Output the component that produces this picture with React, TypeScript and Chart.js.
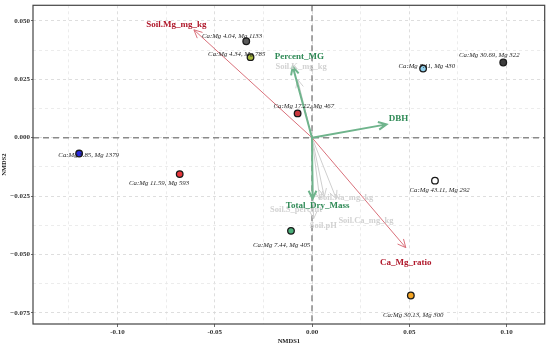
import React, { useEffect, useRef } from "react";
import { Chart, registerables } from "chart.js";

Chart.register(...registerables);

// Sample scores (NMDS1, NMDS2)
const siteLabels = [
  "Ca:Mg 4.04, Mg 1133",
  "Ca:Mg 4.34, Mg 785",
  "Ca:Mg 17.22, Mg 467",
  "Ca:Mg 7.11, Mg 430",
  "Ca:Mg 30.69, Mg 322",
  "Ca:Mg 3.85, Mg 1379",
  "Ca:Mg 11.59, Mg 593",
  "Ca:Mg 43.11, Mg 292",
  "Ca:Mg 7.44, Mg 405",
  "Ca:Mg 30.13, Mg 300",
];
const siteX = [-0.0338, -0.0316, -0.0074, 0.0571, 0.0983, -0.1197, -0.068, 0.0632, -0.0108, 0.0508];
const siteY = [0.0413, 0.0345, 0.0104, 0.0296, 0.0322, -0.0068, -0.0156, -0.0184, -0.0399, -0.0676];
const siteLabelX = [-0.0411, -0.0387, -0.0042, 0.059, 0.0911, -0.1148, -0.0786, 0.0656, -0.0156, 0.052];
const siteLabelY = [0.0434, 0.0358, 0.0135, 0.0304, 0.0355, -0.0077, -0.0193, -0.0223, -0.046, -0.0761];
const siteColors = ["#5b5b5b", "#a9ba3c", "#c9383e", "#8fd0ee", "#3d3d3d", "#2a2ae0", "#e8363b", "#ffffff", "#4caf7a", "#f5a524"];

// Environmental vectors
const envNames = ["Soil.K_mg_kg", "Soil.Na_mg_kg", "Soil.Ca_mg_kg", "Soil.S_percent", "Soil.pH", "Soil.Mg_mg_kg", "Ca_Mg_ratio", "Percent_MG", "DBH", "Total_Dry_Mass"];
const envGroup = ["grey", "grey", "grey", "grey", "grey", "red", "red", "green", "green", "green"];
const envX = [-0.0074, 0.0063, 0.0125, 0.004, 0.0008, -0.0607, 0.0482, -0.0099, 0.0383, 0.0003];
const envY = [0.0249, -0.0253, -0.0262, -0.0265, -0.0348, 0.0462, -0.0471, 0.0305, 0.0057, -0.0262];
const envLabelX = [-0.0056, 0.0174, 0.0277, -0.0082, 0.0058, -0.0697, 0.0482, -0.0065, 0.0444, 0.0029];
const envLabelY = [0.0305, -0.0256, -0.0355, -0.0309, -0.0376, 0.0483, -0.0535, 0.0348, 0.0083, -0.0291];

const xMin = -0.1434, xMax = 0.1196, yMin = -0.0798, yMax = 0.0567;

const groupStyle: Record<string, { line: string; text: string; width: number; font: string }> = {
  grey: { line: "#cfcfcf", text: "#d2d2d2", width: 1, font: "bold 8.5px 'Liberation Serif'" },
  red: { line: "#d9707a", text: "#b0182b", width: 1, font: "bold 9px 'Liberation Serif'" },
  green: { line: "#6fb48c", text: "#2f8a56", width: 2, font: "bold 9px 'Liberation Serif'" },
};

const near = (v: number, step: number) => Math.abs(v / step - Math.round(v / step)) < 1e-6;

const ordPlugin = {
  id: "ord",
  beforeDatasetsDraw(chart: any) {
    const { ctx, chartArea: a, scales } = chart;
    const xs = scales.x, ys = scales.y;
    ctx.save();
    ctx.beginPath();
    ctx.rect(a.left, a.top, a.right - a.left, a.bottom - a.top);
    ctx.clip();
    // zero lines
    ctx.strokeStyle = "#8a8a8a";
    ctx.lineWidth = 1.5;
    ctx.setLineDash([6, 4]);
    const x0 = xs.getPixelForValue(0), y0 = ys.getPixelForValue(0);
    ctx.beginPath();
    ctx.moveTo(x0, a.top); ctx.lineTo(x0, a.bottom);
    ctx.moveTo(a.left, y0); ctx.lineTo(a.right, y0);
    ctx.stroke();
    ctx.setLineDash([]);
    // arrows: grey first, then red, then green
    const order = ["grey", "red", "green"];
    order.forEach((g) => {
      envNames.forEach((_, i) => {
        if (envGroup[i] !== g) return;
        const st = groupStyle[g];
        const tx = xs.getPixelForValue(envX[i]), ty = ys.getPixelForValue(envY[i]);
        ctx.strokeStyle = st.line;
        ctx.lineWidth = st.width;
        ctx.beginPath();
        ctx.moveTo(x0, y0); ctx.lineTo(tx, ty);
        const ang = Math.atan2(ty - y0, tx - x0);
        const L = 9, w = Math.PI / 7;
        ctx.moveTo(tx - L * Math.cos(ang - w), ty - L * Math.sin(ang - w));
        ctx.lineTo(tx, ty);
        ctx.lineTo(tx - L * Math.cos(ang + w), ty - L * Math.sin(ang + w));
        ctx.stroke();
      });
    });
    ctx.restore();
  },
  afterDatasetsDraw(chart: any) {
    const { ctx, chartArea: a, scales } = chart;
    const xs = scales.x, ys = scales.y;
    ctx.save();
    ctx.textAlign = "center";
    ctx.textBaseline = "middle";
    // site labels
    ctx.font = "italic 6.8px 'Liberation Serif'";
    ctx.fillStyle = "#1e1e1e";
    siteLabels.forEach((t, i) => {
      ctx.fillText(t, xs.getPixelForValue(siteLabelX[i]), ys.getPixelForValue(siteLabelY[i]));
    });
    // env labels
    ["grey", "red", "green"].forEach((g) => {
      envNames.forEach((t, i) => {
        if (envGroup[i] !== g) return;
        const st = groupStyle[g];
        ctx.font = st.font;
        ctx.fillStyle = st.text;
        ctx.fillText(t, xs.getPixelForValue(envLabelX[i]), ys.getPixelForValue(envLabelY[i]));
      });
    });
    // frame
    ctx.strokeStyle = "#444";
    ctx.lineWidth = 1.2;
    ctx.strokeRect(a.left, a.top, a.right - a.left, a.bottom - a.top);
    ctx.restore();
  },
};

export default function App() {
  const ref = useRef<HTMLCanvasElement>(null);
  useEffect(() => {
    document.body.style.margin = "0";
    const chart = new Chart(ref.current!, {
      type: "scatter",
      data: {
        datasets: [
          {
            data: siteX.map((x, i) => ({ x, y: siteY[i] })),
            backgroundColor: siteColors,
            borderColor: "#1a1a1a",
            borderWidth: 1.3,
            pointRadius: 3.3,
          },
        ],
      },
      options: {
        responsive: false,
        animation: false,
        layout: { padding: { top: 3, right: 4, left: 0, bottom: 0 } },
        plugins: { legend: { display: false }, tooltip: { enabled: false } },
        scales: {
          x: {
            type: "linear",
            min: xMin,
            max: xMax,
            afterBuildTicks: (s: any) => {
              const t = [];
              for (let v = -0.125; v <= 0.1001; v += 0.025) t.push({ value: Math.round(v * 1000) / 1000 });
              s.ticks = t;
            },
            afterFit: (s: any) => { s.height = 21; },
            grid: {
              color: (c: any) => (near(c.tick.value, 0.05) ? "#d6d6d6" : "#e8e8e8"),
              tickColor: (c: any) => (near(c.tick.value, 0.05) ? "#444" : "rgba(0,0,0,0)"),
              tickLength: 3,
              lineWidth: 0.8,
            },
            border: { display: false, dash: [3, 3] },
            ticks: {
              autoSkip: false,
              maxRotation: 0,
              padding: 1,
              color: "#333",
              font: { family: "'Liberation Serif'", size: 7, weight: "bold" },
              callback: (v: any) => (near(v, 0.05) ? (Math.abs(v) < 1e-9 ? "0.00" : Number(v).toFixed(2)) : ""),
            },
            title: {
              display: true,
              text: "NMDS1",
              color: "#222",
              padding: { top: 0, bottom: 0 },
              font: { family: "'Liberation Serif'", size: 6.5, weight: "bold" },
            },
          },
          y: {
            type: "linear",
            min: yMin,
            max: yMax,
            afterBuildTicks: (s: any) => {
              const t = [];
              for (let k = -6; k <= 4; k++) t.push({ value: Math.round(k * 125) / 10000 });
              s.ticks = t;
            },
            afterFit: (s: any) => { s.width = 33; },
            grid: {
              color: (c: any) => (near(c.tick.value, 0.025) ? "#d6d6d6" : "#e8e8e8"),
              tickColor: (c: any) => (near(c.tick.value, 0.025) ? "#444" : "rgba(0,0,0,0)"),
              tickLength: 2,
              lineWidth: 0.8,
            },
            border: { display: false, dash: [3, 3] },
            ticks: {
              autoSkip: false,
              padding: 1,
              color: "#333",
              font: { family: "'Liberation Serif'", size: 7, weight: "bold" },
              callback: (v: any) => {
                if (!near(v, 0.025)) return "";
                if (Math.abs(v) < 1e-9) return "0.000";
                return (v < 0 ? "\u2212" : "") + Math.abs(v).toFixed(3);
              },
            },
            title: {
              display: true,
              text: "NMDS2",
              color: "#222",
              padding: { top: 0, bottom: 0 },
              font: { family: "'Liberation Serif'", size: 6.5, weight: "bold" },
            },
          },
        },
      },
      plugins: [ordPlugin],
    } as any);
    return () => chart.destroy();
  }, []);
  return <canvas ref={ref} width={550} height={345} style={{ width: 550, height: 345, display: "block" }} />;
}
